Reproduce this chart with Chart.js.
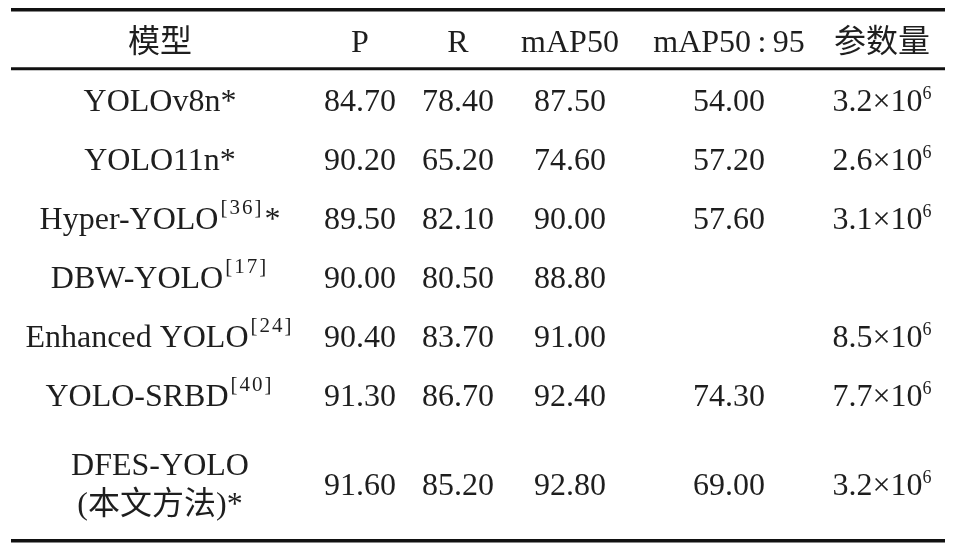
<!DOCTYPE html>
<html>
<head>
<meta charset="utf-8">
<script src="https://cdn.jsdelivr.net/npm/chart.js@4"></script>
<style>
  body { margin: 0; background: #fff; }
  #wrap { width: 964px; height: 544px; }
</style>
</head>
<body>
<div id="wrap"><canvas id="tableChart" width="964" height="544"></canvas></div>
<script>
// table content
const headers = ['模型', 'P', 'R', 'mAP50', 'mAP50\u2009:\u200995', '参数量'];
const models = ['YOLOv8n', 'YOLO11n', 'Hyper-YOLO', 'DBW-YOLO', 'Enhanced YOLO', 'YOLO-SRBD', 'DFES-YOLO'];
const modelRefs = [null, null, 36, 17, 24, 40, null];
const modelStars = [true, true, true, false, false, false, true];
const modelNotes = [null, null, null, null, null, null, '(本文方法)'];
const precision = [84.70, 90.20, 89.50, 90.00, 90.40, 91.30, 91.60];
const recall = [78.40, 65.20, 82.10, 80.50, 83.70, 86.70, 85.20];
const map50 = [87.50, 74.60, 90.00, 88.80, 91.00, 92.40, 92.80];
const map5095 = [54.00, 57.20, 57.60, null, null, 74.30, 69.00];
const paramsBase = [3.2, 2.6, 3.1, null, 8.5, 7.7, 3.2];
const paramsExp = 6;

// layout (table units, mapped through the chart scales)
const colCenter = [160, 360, 458, 570, 729, 882];
const rowSpan = [1, 1, 1, 1, 1, 1, 2];
const tableLeft = 11, tableRight = 945;
const rules = [
    { y: -0.53, w: 3.5 },
    { y: 0.47, w: 3 },
    { y: 8.47, w: 3.5 }
];

const baseFont = '32px "Liberation Serif", "Noto Sans CJK SC", serif';
const supFont = '21px "Liberation Serif", serif';
const expFont = '18px "Liberation Serif", serif';
const textColor = '#1e1e1e';

document.addEventListener('DOMContentLoaded', function () {
    const ctx = document.getElementById('tableChart').getContext('2d');

    // row centres from spans: header at 0, then body rows
    const rowY = [];
    let acc = 0.5;
    rowSpan.forEach(s => {
        rowY.push(acc + s / 2);
        acc += s;
    });

    function modelCell(i) {
        const first = [{ t: models[i] }];
        if (modelRefs[i] !== null) first.push({ t: '[' + modelRefs[i] + ']', sup: 'ref' });
        if (modelStars[i] && !modelNotes[i]) first.push({ t: '*' });
        const lines = [first];
        if (modelNotes[i]) {
            const second = [{ t: modelNotes[i] }];
            if (modelStars[i]) second.push({ t: '*' });
            lines.push(second);
        }
        return lines;
    }

    function numCell(v) {
        return v === null ? null : [[{ t: v.toFixed(2) }]];
    }

    function paramCell(v) {
        return v === null ? null : [[{ t: v.toFixed(1) + '×10' }, { t: String(paramsExp), sup: 'exp' }]];
    }

    const columns = [
        models.map((_, i) => modelCell(i)),
        precision.map(numCell),
        recall.map(numCell),
        map50.map(numCell),
        map5095.map(numCell),
        paramsBase.map(paramCell)
    ];

    const datasets = columns.map((cells, c) => {
        const pts = [{ x: colCenter[c], y: 0 }];
        const txt = [[[{ t: headers[c] }]]];
        cells.forEach((cell, r) => {
            if (cell === null) return;
            pts.push({ x: colCenter[c], y: rowY[r] });
            txt.push(cell);
        });
        return {
            label: headers[c],
            data: pts,
            cells: txt,
            pointRadius: 0,
            pointHoverRadius: 0
        };
    });

    function setRunFont(c, run) {
        c.font = run.sup === 'ref' ? supFont : run.sup === 'exp' ? expFont : baseFont;
        c.letterSpacing = run.sup === 'ref' ? '2px' : '0px';
    }

    function drawRuns(c, runs, cx, cy) {
        const widths = runs.map(run => {
            setRunFont(c, run);
            return c.measureText(run.t).width + (run.sup === 'ref' ? 3 : 0);
        });
        const total = widths.reduce((a, b) => a + b, 0);
        let x = cx - total / 2;
        const base = cy + 11;
        runs.forEach((run, k) => {
            setRunFont(c, run);
            let y = base;
            let dx = 0;
            if (run.sup === 'ref') { y = base - 15; dx = 2; }
            if (run.sup === 'exp') y = base - 12;
            c.fillText(run.t, x + dx, y);
            x += widths[k];
        });
        c.letterSpacing = '0px';
    }

    const tablePlugin = {
        id: 'tablePlugin',
        beforeDatasetsDraw(chart) {
            const c = chart.ctx;
            const xs = chart.scales.x, ys = chart.scales.y;
            c.save();
            c.strokeStyle = '#111';
            rules.forEach(rule => {
                const y = ys.getPixelForValue(rule.y);
                c.lineWidth = rule.w;
                c.beginPath();
                c.moveTo(xs.getPixelForValue(tableLeft), y);
                c.lineTo(xs.getPixelForValue(tableRight), y);
                c.stroke();
            });
            c.restore();
        },
        afterDatasetsDraw(chart) {
            const c = chart.ctx;
            c.save();
            c.fillStyle = textColor;
            c.textBaseline = 'alphabetic';
            c.textAlign = 'left';
            chart.data.datasets.forEach((ds, i) => {
                const meta = chart.getDatasetMeta(i);
                meta.data.forEach((pt, j) => {
                    const lines = ds.cells[j];
                    const gap = 39;
                    const top = pt.y - (lines.length - 1) * gap / 2;
                    lines.forEach((runs, l) => drawRuns(c, runs, pt.x, top + l * gap));
                });
            });
            c.restore();
        }
    };

    new Chart(ctx, {
        type: 'scatter',
        data: { datasets: datasets },
        options: {
            responsive: false,
            animation: false,
            layout: { padding: 0 },
            events: [],
            plugins: {
                legend: { display: false },
                tooltip: { enabled: false }
            },
            scales: {
                x: { type: 'linear', min: 0, max: 964, display: false },
                y: { type: 'linear', min: -0.695, max: 8.525, reverse: true, display: false }
            }
        },
        plugins: [tablePlugin]
    });
});
</script>
</body>
</html>
